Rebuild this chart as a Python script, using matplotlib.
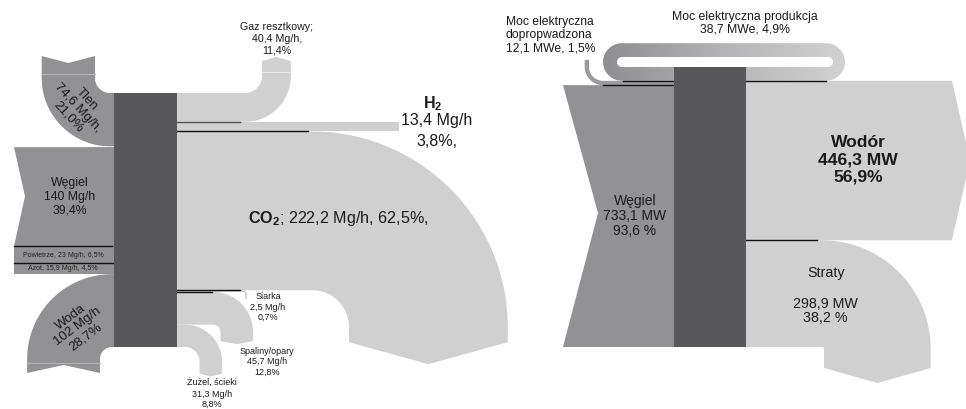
import numpy as np
import matplotlib
matplotlib.use('Agg')
import matplotlib.pyplot as plt
from matplotlib.patches import Polygon, Rectangle, PathPatch
from matplotlib.path import Path

plt.rcParams['font.family'] = ['Liberation Sans', 'DejaVu Sans']
plt.rcParams['mathtext.fontset'] = 'custom'
plt.rcParams['mathtext.rm'] = 'Liberation Sans'
plt.rcParams['mathtext.bf'] = 'Liberation Sans:bold'

# --- data: mass balance (Mg/h) ---
left_in_names = ['Tlen', 'Węgiel', 'Powietrze', 'Azot', 'Woda']
left_in_mass = [74.6, 140, 23, 15.9, 102]
left_in_pct = [21.0, 39.4, 6.5, 4.5, 28.7]
left_out_names = ['Gaz resztkowy', 'H2', 'CO2', 'Siarka', 'Spaliny/opary', 'Żużel, ścieki']
left_out_mass = [40.4, 13.4, 222.2, 2.5, 45.7, 31.3]
left_out_pct = [11.4, 3.8, 62.5, 0.7, 12.8, 8.8]

# --- data: energy balance (MW) ---
right_in_names = ['Węgiel', 'Moc elektryczna\ndopropwadzona']
right_in_power = [733.1, 12.1]
right_in_pct = [93.6, 1.5]
loop_name = 'Moc elektryczna produkcja'
loop_power = 38.7
loop_pct = 4.9
right_out_names = ['Wodór', 'Straty']
right_out_power = [446.3, 298.9]
right_out_pct = [56.9, 38.2]

C_IN = '#929294'
C_OUT = '#d0d0d0'
C_BOX = '#58585a'
C_TXT = '#1a1a1a'


def num(v):
    return ('%g' % v).replace('.', ',')


def pct(v):
    return ('%.1f' % v).replace('.', ',')


def edges(top, vals, scale):
    e = [top]
    for v in vals:
        e.append(e[-1] + v * scale)
    return e


def bend(x0, y_in, w, sx, sy, L, r, D, cap=0.0, n=40):
    # flow leaving the box horizontally, then turning 90 deg toward its inner side
    pts = [(0, 0), (L, 0)]
    a = np.linspace(np.pi / 2, 0, n)
    pts += list(zip(L + r * np.cos(a), -r + r * np.sin(a)))
    pts += [(L + r, -r - D), (L + r + w / 2, -r - D - cap), (L + r + w, -r - D)]
    R = r + w
    a = np.linspace(0, np.pi / 2, n)
    pts += list(zip(L + R * np.cos(a), -r + R * np.sin(a)))
    pts += [(0, w)]
    return [(x0 + sx * u, y_in + sy * v) for u, v in pts]


def seam(ax, x0, y_in, w, sx, sy, L, r, color):
    xs = [x0 + sx * (L + r), x0 + sx * (L + r + w)]
    yv = y_in + sy * (-r - 4)
    ax.plot(xs, [yv, yv], color=color, lw=0.8, zorder=2.5)


def stadium(x0, y0, x1, y1, r, n=20):
    pts = []
    for cx, cy, a0 in [(x1 - r, y0 + r, -90), (x1 - r, y1 - r, 0),
                       (x0 + r, y1 - r, 90), (x0 + r, y0 + r, 180)]:
        a = np.radians(np.linspace(a0, a0 + 90, n))
        pts += list(zip(cx + r * np.cos(a), cy + r * np.sin(a)))
    return pts


fig = plt.figure(figsize=(9.66, 4.09), dpi=100)
ax = fig.add_axes([0, 0, 1, 1])

# ================= left: mass balance =================
box_l = (114, 177)
top_l, h_l = 93, 254
sc_l = h_l / sum(left_in_mass)
ein = edges(top_l, left_in_mass, sc_l)
eout = edges(top_l, left_out_mass, sc_l)
win = [v * sc_l for v in left_in_mass]
wout = [v * sc_l for v in left_out_mass]

# inputs
ax.add_patch(Polygon(bend(box_l[0], ein[0], win[0], -1, 1, 4, 15, 22, cap=-7), fc=C_IN, ec='none', zorder=2))
seam(ax, box_l[0], ein[0], win[0], -1, 1, 4, 15, '#b4b4b6')
ax.add_patch(Polygon([(14, ein[1] + 0.8), (25, (ein[1] + ein[2]) / 2), (14, ein[2]),
                      (box_l[0], ein[2]), (box_l[0], ein[1] + 0.8)], fc=C_IN, ec='none', zorder=2))
for i in (2, 3):
    ax.add_patch(Rectangle((14, ein[i]), box_l[0] - 14, win[i], fc=C_IN, ec='none', zorder=2))
ax.add_patch(Polygon(bend(box_l[0], ein[5], win[4], -1, -1, 2, 12, 14, cap=-8), fc=C_IN, ec='none', zorder=2))
seam(ax, box_l[0], ein[5], win[4], -1, -1, 2, 12, '#b4b4b6')
ax.plot([14, 112], [ein[2], ein[2]], color='#111111', lw=1, zorder=3)
ax.plot([14, 113], [ein[3], ein[3]], color='#111111', lw=1, zorder=3)

# outputs
x0 = box_l[1]
ax.add_patch(Polygon(bend(x0, eout[0], wout[0], 1, 1, 68, 17, 15, cap=4), fc=C_OUT, ec='none', zorder=2))
seam(ax, x0, eout[0], wout[0], 1, 1, 68, 17, '#e8e8e8')
ax.add_patch(Rectangle((x0, eout[1]), 399 - x0, wout[1], fc=C_OUT, ec='none', zorder=2))
ax.add_patch(Polygon(bend(x0, eout[3], wout[2], 1, -1, 135, 37, 15, cap=22), fc=C_OUT, ec='none', zorder=2))
ax.add_patch(Polygon(bend(x0, eout[4], wout[3], 1, -1, 66, 2, 5), fc=C_OUT, ec='none', zorder=2))
ax.add_patch(Polygon(bend(x0, eout[5], wout[4], 1, -1, 36, 7.5, 9, cap=3), fc=C_OUT, ec='none', zorder=2))
ax.add_patch(Polygon(bend(x0, eout[6], wout[5], 1, -1, 8, 14.6, 12, cap=3), fc=C_OUT, ec='none', zorder=2))
ax.plot([x0, 240], [eout[1], eout[1]], color='#555555', lw=1, zorder=3)
ax.plot([x0, 308], [eout[2], eout[2]], color='#111111', lw=1, zorder=3)
ax.plot([x0, 240], [eout[3], eout[3]], color='#111111', lw=1, zorder=3)
ax.plot([x0, 212], [eout[4], eout[4]], color='#111111', lw=1, zorder=3)

ax.add_patch(Rectangle((box_l[0], top_l), box_l[1] - box_l[0], h_l, fc=C_BOX, ec='none', zorder=4))

# labels (left)
ax.text(78, 108, '%s\n%s Mg/h,\n%s%%' % (left_in_names[0], num(left_in_mass[0]), pct(left_in_pct[0])),
        rotation=-47, ha='center', va='center', fontsize=9.5, linespacing=1.05, color=C_TXT, zorder=5)
ax.text(70, 197, '%s\n%s Mg/h\n%s%%' % (left_in_names[1], num(left_in_mass[1]), pct(left_in_pct[1])),
        ha='center', va='center', fontsize=8.8, linespacing=1.2, color=C_TXT, zorder=5)
for i in (2, 3):
    ax.text(63, (ein[i] + ein[i + 1]) / 2 + 0.5,
            '%s, %s Mg/h, %s%%' % (left_in_names[i], num(left_in_mass[i]), pct(left_in_pct[i])),
            ha='center', va='center', fontsize=5, color='#222222', zorder=5)
ax.text(78, 327, '%s\n%s Mg/h\n%s%%' % (left_in_names[4], num(left_in_mass[4]), pct(left_in_pct[4])),
        rotation=37, ha='center', va='center', fontsize=9.5, linespacing=1.05, color=C_TXT, zorder=5)

ax.text(277, 39, '%s;\n%s Mg/h,\n%s%%' % (left_out_names[0], num(left_out_mass[0]), pct(left_out_pct[0])),
        ha='center', va='center', fontsize=7.7, color=C_TXT)
ax.text(433, 104, r'$\mathbf{H_2}$', ha='center', va='center', fontsize=11.5, color=C_TXT)
ax.text(437, 121, '%s Mg/h' % num(left_out_mass[1]), ha='center', va='center', fontsize=11.5, color=C_TXT)
ax.text(437, 142, '%s%%,' % pct(left_out_pct[1]), ha='center', va='center', fontsize=11.5, color=C_TXT)
ax.text(248, 218, r'$\mathbf{CO_2}$; %s Mg/h, %s%%,' % (num(left_out_mass[2]), pct(left_out_pct[2])),
        ha='left', va='center', fontsize=11.6, color=C_TXT, zorder=5)
ax.text(268, 307, '%s\n%s Mg/h\n%s%%' % (left_out_names[3], num(left_out_mass[3]), pct(left_out_pct[3])),
        ha='center', va='center', fontsize=6.5, color=C_TXT)
ax.text(267, 362, '%s\n%s Mg/h\n%s%%' % (left_out_names[4], num(left_out_mass[4]), pct(left_out_pct[4])),
        ha='center', va='center', fontsize=6.5, color=C_TXT)
ax.text(212, 394, '%s\n%s Mg/h\n%s%%' % (left_out_names[5], num(left_out_mass[5]), pct(left_out_pct[5])),
        ha='center', va='center', fontsize=6.5, color=C_TXT)

# ================= right: energy balance =================
box_r = (674, 746)
top_r, h_r = 67, 280
sc_r = h_r / (sum(right_in_power) + loop_power)
# left side from top: loop return, supplied electricity, coal
e_ri = edges(top_r, [loop_power, right_in_power[1], right_in_power[0]], sc_r)
e_ro = edges(top_r, [loop_power] + right_out_power, sc_r)
w_loop = loop_power * sc_r

# recirculated electricity loop with gradient
outer = stadium(603, top_r - w_loop - 10, 845, e_ro[1], 19)
inner = stadium(617, top_r - 10, 833, top_r, 5)[::-1]
verts = outer + [outer[0]] + inner + [inner[0]]
codes = ([Path.MOVETO] + [Path.LINETO] * (len(outer) - 1) + [Path.CLOSEPOLY] +
         [Path.MOVETO] + [Path.LINETO] * (len(inner) - 1) + [Path.CLOSEPOLY])
ring = PathPatch(Path(verts, codes), fc='none', ec='none')
ax.add_patch(ring)
grad = np.linspace(0, 1, 256).reshape(1, -1)
cmap = matplotlib.colors.LinearSegmentedColormap.from_list('g', ['#8e8e90', '#b4b4b6', '#d2d2d2'])
im = ax.imshow(grad, extent=(603, 845, e_ro[1], top_r - w_loop - 10), cmap=cmap,
               aspect='auto', zorder=1)
im.set_clip_path(ring)

# supplied electricity
w_el = right_in_power[1] * sc_r
ax.add_patch(Polygon(bend(box_r[0], e_ri[1], w_el, -1, 1, 71, 14, 7), fc='#9c9c9e', ec='none', zorder=2))

# coal
ax.add_patch(Polygon([(563, e_ri[2]), (598, (e_ri[2] + e_ri[3]) / 2 - 3), (563, e_ri[3]),
                      (box_r[0], e_ri[3]), (box_r[0], e_ri[2])], fc=C_IN, ec='none', zorder=2))
# hydrogen
ax.add_patch(Polygon([(box_r[1], e_ro[1]), (952, e_ro[1]), (970, (e_ro[1] + e_ro[2]) / 2),
                      (952, e_ro[2]), (box_r[1], e_ro[2])], fc=C_OUT, ec='none', zorder=2))
# losses
w_st = right_out_power[1] * sc_r
ax.add_patch(Polygon(bend(box_r[1], e_ro[3], w_st, 1, -1, 76, 2, 19, cap=15), fc=C_OUT, ec='none', zorder=2))

ax.plot([623, box_r[0]], [e_ri[1], e_ri[1]], color='#111111', lw=1, zorder=3)
ax.plot([603, box_r[0]], [e_ri[2], e_ri[2]], color='#111111', lw=1, zorder=3)
ax.plot([box_r[1], 826], [e_ro[1], e_ro[1]], color='#111111', lw=1, zorder=3)
ax.plot([box_r[1], 817], [e_ro[2], e_ro[2]], color='#111111', lw=1, zorder=3)

ax.add_patch(Rectangle((box_r[0], top_r), box_r[1] - box_r[0], h_r, fc=C_BOX, ec='none', zorder=4))

# labels (right)
ax.text(506, 35, '%s\n%s MWe, %s%%' % (right_in_names[1], num(right_in_power[1]), pct(right_in_pct[1])),
        ha='left', va='center', fontsize=8.7, linespacing=1.15, color=C_TXT)
ax.text(745, 23, '%s\n%s MWe, %s%%' % (loop_name, num(loop_power), pct(loop_pct)),
        ha='center', va='center', fontsize=8.8, linespacing=1.1, color=C_TXT)
ax.text(858, 160, '%s\n%s MW\n%s%%' % (right_out_names[0], num(right_out_power[0]), pct(right_out_pct[0])),
        ha='center', va='center', fontsize=12.6, fontweight='bold', linespacing=1.2, color=C_TXT)
ax.text(635, 216, '%s\n%s MW\n%s %%' % (right_in_names[0], num(right_in_power[0]), pct(right_in_pct[0])),
        ha='center', va='center', fontsize=10, linespacing=1.1, color=C_TXT, zorder=5)
ax.text(826, 273, right_out_names[1], ha='center', va='center', fontsize=10.3, color=C_TXT, zorder=5)
ax.text(825, 311, '%s MW\n%s %%' % (num(right_out_power[1]), pct(right_out_pct[1])),
        ha='center', va='center', fontsize=10.3, linespacing=1.0, color=C_TXT, zorder=5)

ax.set_xlim(0, 966)
ax.set_ylim(409, 0)
ax.axis('off')
fig.savefig('out.png', dpi=100)
